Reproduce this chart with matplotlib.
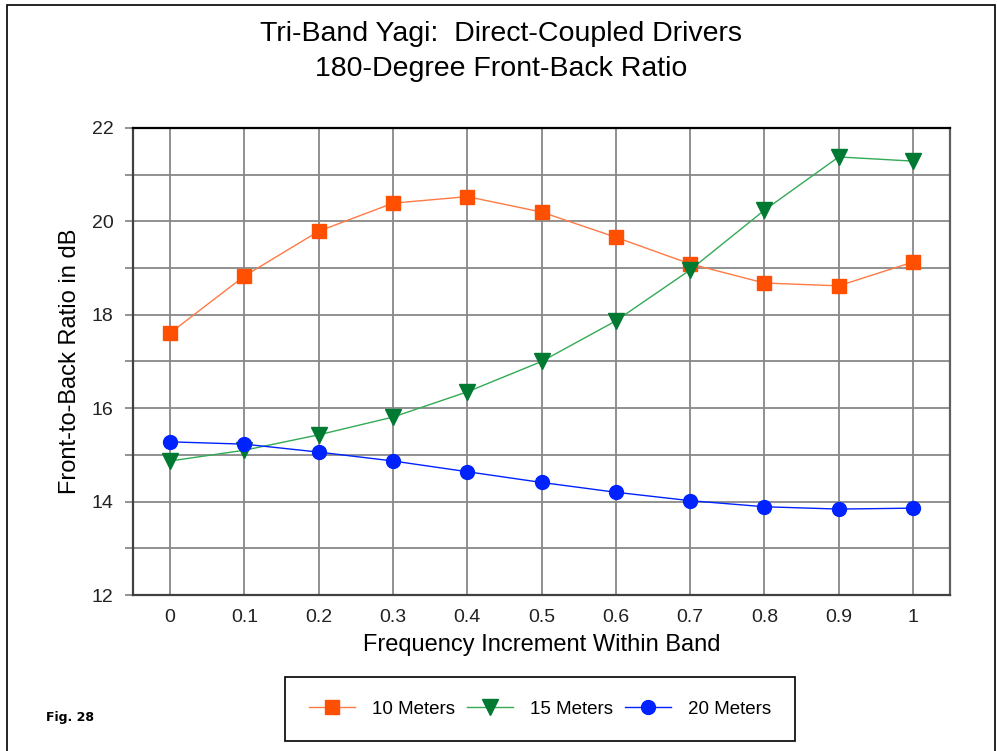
import matplotlib
matplotlib.use("Agg")
from matplotlib import pyplot as plt
from matplotlib.patches import Rectangle

plt.rcParams['font.family'] = ['Liberation Sans', 'DejaVu Sans']

freq = [0, 0.1, 0.2, 0.3, 0.4, 0.5, 0.6, 0.7, 0.8, 0.9, 1.0]
m10 = [17.61, 18.83, 19.79, 20.39, 20.53, 20.2, 19.66, 19.09, 18.68, 18.62, 19.13]
m15 = [14.87, 15.1, 15.43, 15.81, 16.35, 17.0, 17.87, 18.96, 20.24, 21.38, 21.29]
m20 = [15.28, 15.23, 15.06, 14.87, 14.64, 14.41, 14.2, 14.02, 13.89, 13.84, 13.86]
xticks = [0, 0.1, 0.2, 0.3, 0.4, 0.5, 0.6, 0.7, 0.8, 0.9, 1]
xlabels = ["0", "0.1", "0.2", "0.3", "0.4", "0.5", "0.6", "0.7", "0.8", "0.9", "1"]
yticks = [12, 14, 16, 18, 20, 22]

fig = plt.figure(figsize=(9.97, 7.51), dpi=100)
ax = fig.add_axes([0.1334, 0.2077, 0.8196, 0.6219])

# border round the whole picture
fig.patches.append(Rectangle((0.007, -0.01), 0.991, 1.003, transform=fig.transFigure,
                             fill=False, edgecolor="black", linewidth=1.2))

ax.plot(freq, m10, color="#ff7a45", linewidth=1.0, marker="s", markersize=10.5,
        markerfacecolor="#ff4f00", markeredgecolor="#ff4f00", label="10 Meters", zorder=3)
ax.plot(freq, m15, color="#33aa55", linewidth=1.0, marker="v", markersize=11,
        markerfacecolor="#007a33", markeredgecolor="#007a33", label="15 Meters", zorder=3)
ax.plot(freq, m20, color="#0022ff", linewidth=1.0, marker="o", markersize=10,
        markerfacecolor="#0022ff", markeredgecolor="#0022ff", label="20 Meters", zorder=3)

ax.set_xlim(-0.05, 1.05)
ax.set_ylim(12, 22)
ax.set_xticks(xticks)
ax.set_xticklabels(xlabels)
ax.set_yticks(yticks)
ax.set_yticks([13, 15, 17, 19, 21], minor=True)
ax.tick_params(axis="x", length=0, labelsize=14, pad=10, colors="#222222")
ax.tick_params(axis="y", which="both", length=6, width=1.2, color="#808080",
               labelsize=14, pad=8, labelcolor="#222222")
ax.grid(True, which="both", color="#888888", linewidth=1.3)
ax.set_axisbelow(True)

for side in ["left", "bottom"]:
    ax.spines[side].set_color("#404040")
    ax.spines[side].set_linewidth(1.6)
ax.spines["top"].set_color("black")
ax.spines["top"].set_linewidth(1.6)
ax.spines["right"].set_color("#606060")
ax.spines["right"].set_linewidth(1.6)

ax.set_xlabel("Frequency Increment Within Band", fontsize=17, labelpad=6)
ax.set_ylabel("Front-to-Back Ratio in dB", fontsize=17, labelpad=8)

fig.text(0.503, 0.955, "Tri-Band Yagi:  Direct-Coupled Drivers", ha="center", va="center", fontsize=20.5)
fig.text(0.503, 0.908, "180-Degree Front-Back Ratio", ha="center", va="center", fontsize=20.5)
fig.text(0.046, 0.045, "Fig. 28", ha="left", va="center", fontsize=9, fontweight="bold",
         family="DejaVu Sans")

leg = fig.legend(loc="center", bbox_to_anchor=(0.5416, 0.056), ncol=3, fontsize=13.5,
                 fancybox=False, edgecolor="black", framealpha=1, handlelength=2.5,
                 columnspacing=0.6, borderpad=1.25, handletextpad=0.9, borderaxespad=0)
leg.get_frame().set_linewidth(1.2)

fig.savefig("out.png", dpi=100)
